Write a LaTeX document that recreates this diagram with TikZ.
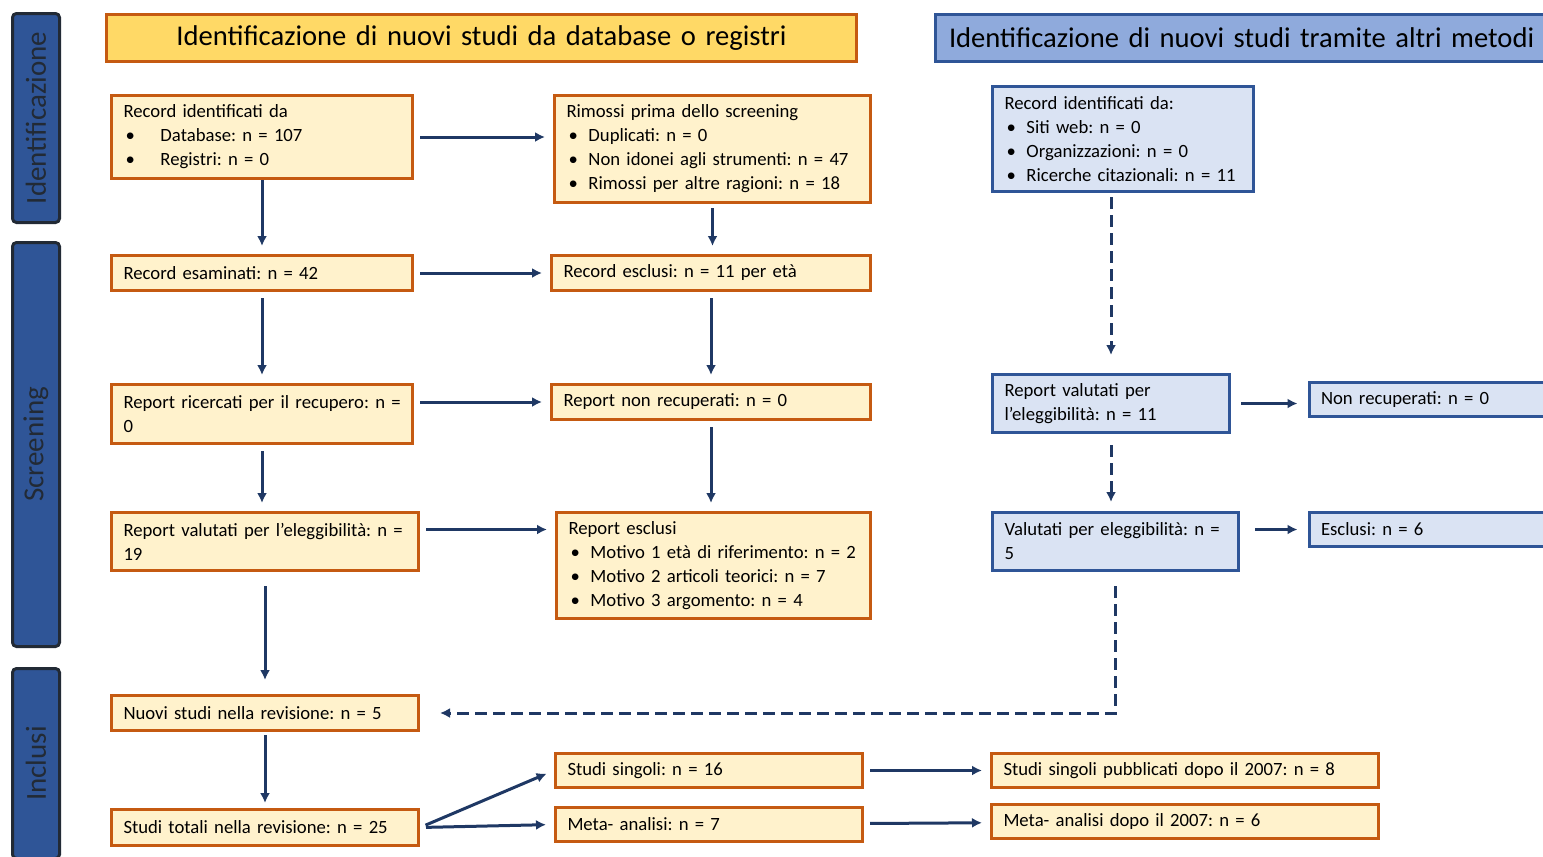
\documentclass[tikz,border=0pt]{standalone}
\usepackage{fontspec}
\setmainfont{Carlito}
\usetikzlibrary{arrows.meta}

\definecolor{orangebd}{HTML}{C55A11}
\definecolor{yellowbg}{HTML}{FFF2CC}
\definecolor{goldbg}{HTML}{FFD966}
\definecolor{bluebd}{HTML}{2F5597}
\definecolor{bluebg}{HTML}{DAE3F3}
\definecolor{blueheadbg}{HTML}{8FAADC}
\definecolor{navy}{HTML}{1F3864}
\definecolor{barbd}{HTML}{222A35}

\newcommand{\bul}[1]{\makebox[#1][l]{\hspace{1pt}\textbullet}}
\frenchspacing

\begin{document}
\begin{tikzpicture}[x=0.5pt, y=-0.5pt,
  every node/.style={font=\fontsize{9.35}{12}\selectfont, align=left, inner xsep=6pt, inner ysep=0pt},
  ybox/.style={draw=orangebd, fill=yellowbg, line width=1.5pt},
  bbox/.style={draw=bluebd, fill=bluebg, line width=1.5pt},
  yhead/.style={draw=orangebd, fill=goldbg, line width=1.5pt, minimum height=23.5pt, font=\fontsize{14.3}{16}\selectfont},
  bhead/.style={draw=bluebd, fill=blueheadbg, line width=1.5pt, minimum height=23.5pt, font=\fontsize{14.3}{16}\selectfont},
  phase/.style={draw=barbd, fill=bluebd, line width=1.5pt, rounded corners=2pt, rotate=90, minimum height=23.5pt, inner sep=0pt, text=barbd, align=center, font=\fontsize{14.5}{16}\selectfont},
  arr/.style={-{Latex[length=5pt,width=5pt]}, draw=navy, line width=1.5pt, shorten <=3pt, shorten >=4pt},
  darr/.style={arr, dash pattern=on 6pt off 3pt}]
\useasboundingbox (0,0) rectangle (1543,857);
\clip (0,0) rectangle (1543,857);

% fasi
\node[phase, minimum width=104.5pt] (idbar) at (36,118) {Identificazione};
\node[phase, minimum width=202pt] (scrbar) at (36,444.5) {Screening};
\node[phase, minimum width=95pt] (incbar) at (36,763.5) {Inclusi};

\node[yhead, text width=363pt, align=center] (hdb) at (481.5,38) {Identificazione di nuovi studi da database o registri};
\node[bhead, anchor=west, inner xsep=7pt, text width=293pt] (hother) at (933.5,38) {Identificazione di nuovi studi tramite altri metodi};

% database e registri
\node[ybox, text width=138.5pt, minimum height=41.5pt] (rec) at (262,137) {Record identificati da\\\bul{18.5pt}Database: n = 107\\\bul{18.5pt}Registri: n = 0};
\node[ybox, text width=146pt, minimum height=53.5pt] (rem) at (712.5,149) {Rimossi prima dello screening\\\bul{11pt}Duplicati: n = 0\\\bul{11pt}Non idonei agli strumenti: n = 47\\\bul{11pt}Rimossi per altre ragioni: n = 18};
\node[ybox, text width=138.5pt, minimum height=17.5pt] (esam) at (262,273) {Record esaminati: n = 42};
\node[ybox, text width=147.5pt, minimum height=17.5pt] (escl) at (711,273) {Record esclusi: n = 11 per età};
\node[ybox, text width=138.5pt, minimum height=29.5pt] (ricer) at (262,414) {\mbox{Report ricercati per il recupero: n =}\\0};
\node[ybox, text width=147.5pt, minimum height=17.5pt] (nonrec) at (711,402) {Report non recuperati: n = 0};
\node[ybox, text width=141.5pt, minimum height=29pt] (valut) at (265,541.5) {\mbox{Report valutati per l’eleggibilità: n =}\\19};
\node[ybox, text width=145pt, minimum height=53pt] (repescl) at (713.5,565.5) {Report esclusi\\\bul{11pt}\mbox{Motivo 1 età di riferimento: n = 2}\\\bul{11pt}Motivo 2 articoli teorici: n = 7\\\bul{11pt}Motivo 3 argomento: n = 4};
\node[ybox, text width=141.5pt, minimum height=17.5pt] (nuovi) at (265,713) {Nuovi studi nella revisione: n = 5};
\node[ybox, text width=141.5pt, minimum height=18pt] (totali) at (265,827.5) {Studi totali nella revisione: n = 25};
\node[ybox, text width=141.5pt, minimum height=17pt] (singoli) at (709,770.5) {Studi singoli: n = 16};
\node[ybox, text width=141.5pt, minimum height=17pt] (meta) at (709,824.5) {Meta- analisi: n = 7};
\node[ybox, text width=181.5pt, minimum height=17pt] (sing07) at (1185,770.5) {Studi singoli pubblicati dopo il 2007: n = 8};
\node[ybox, text width=181.5pt, minimum height=17pt] (meta07) at (1185,821.5) {Meta- analisi dopo il 2007: n = 6};

% altri metodi
\node[bbox, text width=118.5pt, minimum height=52.5pt] (recid) at (1123,139) {Record identificati da:\\\bul{11pt}Siti web: n = 0\\\bul{11pt}Organizzazioni: n = 0\\\bul{11pt}\mbox{Ricerche citazionali: n = 11}};
\node[bbox, text width=106.5pt, minimum height=29pt] (repval) at (1111,403.5) {Report valutati per\\l’eleggibilità: n = 11};
\node[bbox, anchor=west, text width=115pt, minimum height=17pt] (nonrec2) at (1307.5,399.5) {Non recuperati: n = 0};
\node[bbox, text width=111pt, minimum height=29pt] (valel) at (1115.5,541.5) {\mbox{Valutati per eleggibilità: n =}\\5};
\node[bbox, anchor=west, text width=115pt, minimum height=17pt] (esclusi) at (1307.5,529.5) {Esclusi: n = 6};

\draw[arr, shorten <=0pt] (rec) -- (esam);
\draw[arr] (rec.east) -- (rec.east -| rem.west);
\draw[arr, shorten <=2pt] (rem) -- (rem |- escl.north);
\draw[arr] (esam) -- (escl);
\draw[arr] (esam) -- (ricer);
\draw[arr] (escl) -- (nonrec);
\draw[arr] (ricer.east |- nonrec) -- (nonrec);
\draw[arr] (ricer) -- (ricer |- valut.north);
\draw[arr] (nonrec) -- (nonrec |- repescl.north);
\draw[arr] ([yshift=6pt]valut.east) -- ([yshift=6pt]valut.east -| repescl.west);
\draw[arr, shorten <=7pt, shorten >=7pt] (valut) -- (nuovi);
\draw[arr, shorten <=1.5pt, shorten >=2.5pt] (nuovi) -- (totali);
\draw[arr] (totali.east) -- (singoli.west);
\draw[arr] (totali.east) -- (meta.west);
\draw[arr] (singoli) -- (sing07);
\draw[arr] (meta) -- (meta07);

\draw[darr, shorten <=2pt, shorten >=9pt] (recid.south -| repval) -- (repval);
\draw[arr, shorten <=5pt, shorten >=5pt] (repval) -- (repval -| nonrec2.west);
\draw[darr, shorten <=5.5pt, shorten >=4.5pt] (repval) -- (repval |- valel.north);
\draw[arr, shorten <=7.5pt, shorten >=5pt] (valel.east |- esclusi) -- (esclusi);
\draw[darr, shorten <=7pt, shorten >=10pt] (valel.south) -- (valel.south |- nuovi) -- (nuovi);
\end{tikzpicture}
\end{document}
